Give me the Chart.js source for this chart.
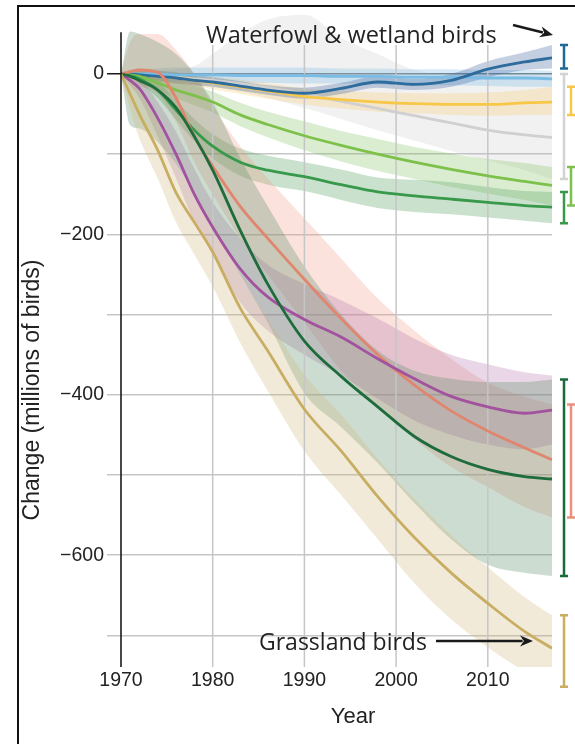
<!DOCTYPE html>
<html>
<head>
<meta charset="utf-8">
<script src="https://cdn.jsdelivr.net/npm/chart.js@4.4.1/dist/chart.umd.min.js"></script>
<style>
    html, body { margin: 0; padding: 0; background: #fff; overflow: hidden; }
    #frame { position: absolute; left: 17px; top: 5px; width: 570px; height: 745px;
             border-left: 2.5px solid #111; border-top: 2.5px solid #111; }
    #wrap { position: absolute; left: 0; top: 0; width: 575px; height: 744px; }
</style>
</head>
<body>
<div id="frame"></div>
<div id="wrap"><canvas id="chart"></canvas></div>
<script>
// --- DATA (millions of birds, change since 1970) ---
const years = [1970, 1971, 1972, 1974, 1976, 1978, 1980, 1983, 1986, 1990, 1994, 1998, 2002, 2006, 2010, 2014, 2017];
const xTicks = [1970, 1980, 1990, 2000, 2010];
const yTicks = [-700, -600, -500, -400, -300, -200, -100, 0];

const wetland   = [0, 0, -1, -3, -5, -8, -10, -15, -20, -24, -18, -10, -13, -8, 6, 15, 20];
const wetlandLo = [0, -5, -7, -9, -12, -14, -16, -21, -26, -31, -25, -17, -20, -16, -4, 5, 7];
const wetlandHi = [0, 4, 5, 4, 2, -1, -4, -9, -14, -17, -11, -3, -6, 0, 16, 27, 36];

const coasts   = [0, 0, 0, 0, -1, -1, -1, -2, -2, -2, -3, -3, -4, -4, -5, -5, -6];
const coastsLo = [0, -5, -7, -8, -9, -10, -10, -11, -11, -12, -12, -13, -14, -14, -15, -16, -16];
const coastsHi = [0, 5, 6, 7, 8, 8, 8, 8, 8, 8, 7, 7, 6, 6, 5, 5, 4];

const aridlands   = [0, 0, -1, -3, -5, -8, -11, -16, -21, -28, -32, -35, -37, -38, -38, -36, -35];
const aridlandsLo = [0, -4, -6, -9, -12, -15, -19, -25, -31, -38, -43, -47, -49, -51, -52, -51, -51];
const aridlandsHi = [0, 3, 4, 3, 2, 0, -3, -7, -12, -18, -21, -23, -24, -24, -23, -20, -16];

const tundra   = [0, 0, -1, -2, -4, -6, -8, -12, -17, -25, -34, -43, -52, -61, -70, -76, -79];
const tundraLo = [0, -3, -5, -7, -10, -13, -16, -22, -30, -42, -56, -70, -83, -96, -108, -120, -131];
const tundraHi = [0, 2, 3, 4, 6, 10, 25, 50, 68, 74, 45, 25, 5, -1, -2, -1, 0];

const western   = [0, -1, -3, -11, -20, -27, -35, -51, -63, -77, -89, -100, -110, -119, -127, -134, -139];
const westernLo = [0, -3, -9, -19, -30, -39, -48, -65, -79, -95, -109, -121, -131, -141, -149, -157, -164];
const westernHi = [0, 1, 3, -3, -10, -15, -22, -36, -47, -59, -71, -81, -91, -99, -106, -111, -116];

const eastern   = [0, -2, -6, -20, -45, -70, -90, -110, -120, -128, -138, -147, -152, -156, -160, -164, -166];
const easternLo = [0, -5, -12, -30, -57, -84, -105, -127, -138, -146, -157, -167, -172, -175, -179, -183, -186];
const easternHi = [0, 1, 0, -10, -33, -56, -75, -93, -102, -110, -119, -129, -132, -135, -141, -146, -147];

const boreal   = [0, -3, -8, -20, -42, -78, -120, -195, -262, -333, -377, -415, -452, -477, -493, -502, -505];
const borealLo = [0, -64, -68, -85, -112, -150, -190, -250, -310, -398, -440, -485, -535, -580, -612, -622, -626];
const borealHi = [0, 53, 50, 40, 25, 0, -35, -105, -165, -240, -300, -345, -370, -380, -384, -384, -381];

const forestGen   = [0, 3, 5, 2, -30, -78, -115, -165, -205, -256, -305, -350, -388, -420, -445, -466, -481];
const forestGenLo = [0, -10, -15, -25, -60, -110, -150, -205, -250, -310, -370, -415, -455, -490, -515, -540, -553];
const forestGenHi = [0, 40, 50, 50, 30, 0, -40, -90, -130, -180, -230, -280, -320, -355, -385, -402, -412];

const habitatGen   = [0, -8, -18, -55, -100, -150, -191, -243, -278, -306, -328, -355, -380, -402, -415, -423, -419];
const habitatGenLo = [0, -14, -30, -78, -130, -185, -225, -285, -320, -350, -376, -405, -432, -450, -462, -468, -462];
const habitatGenHi = [0, -2, -6, -35, -72, -118, -160, -205, -238, -262, -282, -305, -330, -350, -362, -372, -376];

const grassland   = [0, -25, -50, -95, -148, -185, -222, -292, -345, -418, -470, -527, -578, -622, -660, -695, -716];
const grasslandLo = [0, -45, -80, -130, -185, -225, -265, -335, -395, -470, -525, -580, -635, -680, -715, -745, -764];
const grasslandHi = [0, -5, -20, -60, -110, -150, -185, -250, -305, -375, -425, -480, -530, -575, -615, -652, -675];

// --- SERIES STYLES (back to front) ---
const series = [
    { label: 'Arctic tundra', values: tundra, lo: tundraLo, hi: tundraHi, color: '#d0d0d0', band: 'rgba(185,185,185,0.2)', bar: 12, barColor: '#d3d3d3' },
    { label: 'Aridlands', values: aridlands, lo: aridlandsLo, hi: aridlandsHi, color: '#f7c748', band: 'rgba(248,200,100,0.28)', bar: 19, barColor: '#f7c748' },
    { label: 'Coasts', values: coasts, lo: coastsLo, hi: coastsHi, color: '#79bce6', band: 'rgba(120,185,230,0.3)', bar: null },
    { label: 'Wetland', values: wetland, lo: wetlandLo, hi: wetlandHi, color: '#2d6c9c', band: 'rgba(70,105,165,0.32)', bar: 12, barColor: '#1d6a98' },
    { label: 'Western forest', values: western, lo: westernLo, hi: westernHi, color: '#7dc14b', band: 'rgba(125,190,90,0.28)', bar: 19, barColor: '#7dc14b' },
    { label: 'Eastern forest', values: eastern, lo: easternLo, hi: easternHi, color: '#38994a', band: 'rgba(80,160,90,0.3)', bar: 12, barColor: '#38994a' },
    { label: 'Forest generalists', values: forestGen, lo: forestGenLo, hi: forestGenHi, color: '#e0866e', band: 'rgba(240,150,130,0.28)', bar: 19, barColor: '#ee8e7e' },
    { label: 'Habitat generalists', values: habitatGen, lo: habitatGenLo, hi: habitatGenHi, color: '#a2529e', band: 'rgba(175,110,170,0.28)', bar: null },
    { label: 'Boreal forest', values: boreal, lo: borealLo, hi: borealHi, color: '#1e6b3c', band: 'rgba(90,140,100,0.3)', bar: 12, barColor: '#1a6b3a' },
    { label: 'Grassland', values: grassland, lo: grasslandLo, hi: grasslandHi, color: '#c8ad62', band: 'rgba(205,180,120,0.28)', bar: 12, barColor: '#c8ad62' }
];

const AXIS_FONT = 'Liberation Sans, Arial, sans-serif';
const NOTE_FONT = 'Open Sans, sans-serif';

const pts = arr => arr.map((v, i) => ({ x: years[i], y: v }));

function buildDatasets() {
    const sets = [];
    const n = series.length;
    series.forEach((s, i) => {
        // band: upper edge, then lower edge filled back to it
        sets.push({ label: s.label + ' hi', data: pts(s.hi), borderWidth: 0, pointRadius: 0,
                    fill: false, order: 100 + (n - i) });
        sets.push({ label: s.label + ' lo', data: pts(s.lo), borderWidth: 0, pointRadius: 0,
                    fill: '-1', backgroundColor: s.band, order: 100 + (n - i) });
    });
    series.forEach((s, i) => {
        sets.push({ label: s.label, data: pts(s.values), borderColor: s.color, borderWidth: 2.8,
                    pointRadius: 0, fill: false, order: n - i });
    });
    return sets;
}

function drawArrow(ctx, x1, y1, x2, y2) {
    const a = Math.atan2(y2 - y1, x2 - x1);
    const len = 13, half = 5.5;
    ctx.beginPath();
    ctx.moveTo(x1, y1);
    ctx.lineTo(x2 - Math.cos(a) * len * 0.8, y2 - Math.sin(a) * len * 0.8);
    ctx.stroke();
    ctx.beginPath();
    ctx.moveTo(x2, y2);
    ctx.lineTo(x2 - Math.cos(a) * len - Math.sin(a) * half, y2 - Math.sin(a) * len + Math.cos(a) * half);
    ctx.lineTo(x2 - Math.cos(a) * len * 0.7, y2 - Math.sin(a) * len * 0.7);
    ctx.lineTo(x2 - Math.cos(a) * len + Math.sin(a) * half, y2 - Math.sin(a) * len - Math.cos(a) * half);
    ctx.closePath();
    ctx.fill();
}

const extras = {
    id: 'extras',
    beforeDatasetsDraw(chart) {
        const { ctx, chartArea, scales: { x, y } } = chart;
        ctx.save();
        ctx.strokeStyle = '#c6c6c6';
        ctx.lineWidth = 1.5;
        xTicks.slice(1).forEach(v => {
            const px = x.getPixelForValue(v);
            ctx.beginPath();
            ctx.moveTo(px, y.getPixelForValue(36));
            ctx.lineTo(px, chartArea.bottom);
            ctx.stroke();
        });
        ctx.restore();
    },
    afterDatasetsDraw(chart) {
        const { ctx, chartArea, scales: { x, y } } = chart;
        ctx.save();
        ctx.strokeStyle = '#1a1a1a';
        ctx.lineWidth = 1.6;
        const ax = x.getPixelForValue(1970);
        ctx.beginPath();
        ctx.moveTo(ax, y.getPixelForValue(52));
        ctx.lineTo(ax, chartArea.bottom);
        ctx.stroke();
        ctx.restore();
    },
    afterDraw(chart) {
        const { ctx, chartArea, scales: { y } } = chart;
        ctx.save();
        // error bars for 2017 totals
        ctx.lineWidth = 2.5;
        series.forEach(s => {
            if (s.bar === null) return;
            const px = chartArea.right + s.bar;
            const top = y.getPixelForValue(s.hi[s.hi.length - 1]);
            const bot = y.getPixelForValue(s.lo[s.lo.length - 1]);
            ctx.strokeStyle = s.barColor;
            ctx.beginPath();
            ctx.moveTo(px, top); ctx.lineTo(px, bot);
            ctx.moveTo(px - 4, top); ctx.lineTo(px + 4, top);
            ctx.moveTo(px - 4, bot); ctx.lineTo(px + 4, bot);
            ctx.stroke();
        });

        // axis titles
        ctx.fillStyle = '#222';
        ctx.textAlign = 'center';
        ctx.textBaseline = 'middle';
        ctx.font = '22px ' + AXIS_FONT;
        ctx.fillText('Year', 353, 717);
        ctx.save();
        ctx.translate(32.5, 390);
        ctx.rotate(-Math.PI / 2);
        ctx.font = '23px ' + AXIS_FONT;
        ctx.fillText('Change (millions of birds)', 0, 0);
        ctx.restore();

        // annotations
        ctx.font = '23.5px ' + NOTE_FONT;
        ctx.textAlign = 'left';
        ctx.textBaseline = 'alphabetic';
        ctx.fillText('Waterfowl & wetland birds', 206, 43);
        ctx.font = '23px ' + NOTE_FONT;
        ctx.fillText('Grassland birds', 259, 650);
        ctx.strokeStyle = '#1a1a1a';
        ctx.fillStyle = '#1a1a1a';
        ctx.lineWidth = 2.5;
        drawArrow(ctx, 513, 25, 553, 35);
        drawArrow(ctx, 436, 641, 533, 641);
        ctx.restore();
    }
};

const ctx = document.getElementById('chart').getContext('2d');
new Chart(ctx, {
    type: 'line',
    data: { datasets: buildDatasets() },
    plugins: [extras],
    options: {
        responsive: true,
        maintainAspectRatio: false,
        animation: false,
        events: [],
        layout: { padding: { top: 12, right: 23, left: 0, bottom: 0 } },
        elements: { line: { cubicInterpolationMode: 'monotone' }, point: { radius: 0 } },
        plugins: {
            legend: { display: false },
            tooltip: { enabled: false },
            filler: { drawTime: 'beforeDatasetsDraw' }
        },
        scales: {
            x: {
                type: 'linear',
                min: 1970,
                max: 2017,
                afterBuildTicks: s => { s.ticks = xTicks.map(v => ({ value: v })); },
                afterFit: s => { s.height = 77; },
                grid: { display: false, drawTicks: false },
                border: { display: false },
                ticks: { color: '#222', padding: 2, maxRotation: 0,
                         font: { family: AXIS_FONT, size: 19.5 },
                         callback: v => String(v) }
            },
            y: {
                min: -739.4,
                max: 77.3,
                afterBuildTicks: s => { s.ticks = yTicks.map(v => ({ value: v })); },
                afterFit: s => { s.width = 121; s.paddingTop = 0; s.paddingBottom = 0; },
                grid: {
                    lineWidth: 1.5,
                    tickLength: 14,
                    color: c => c.tick && c.tick.value === 0 ? '#707070' : '#c6c6c6',
                    tickColor: c => c.tick && c.tick.value === 0 ? '#1a1a1a' : '#c6c6c6'
                },
                border: { display: false },
                ticks: { color: '#222', padding: 3,
                         font: { family: AXIS_FONT, size: 19.5 },
                         callback: v => v % 200 !== 0 ? '' : (v < 0 ? '\u2212' + Math.abs(v) : '0') }
            }
        }
    }
});
</script>
</body>
</html>
